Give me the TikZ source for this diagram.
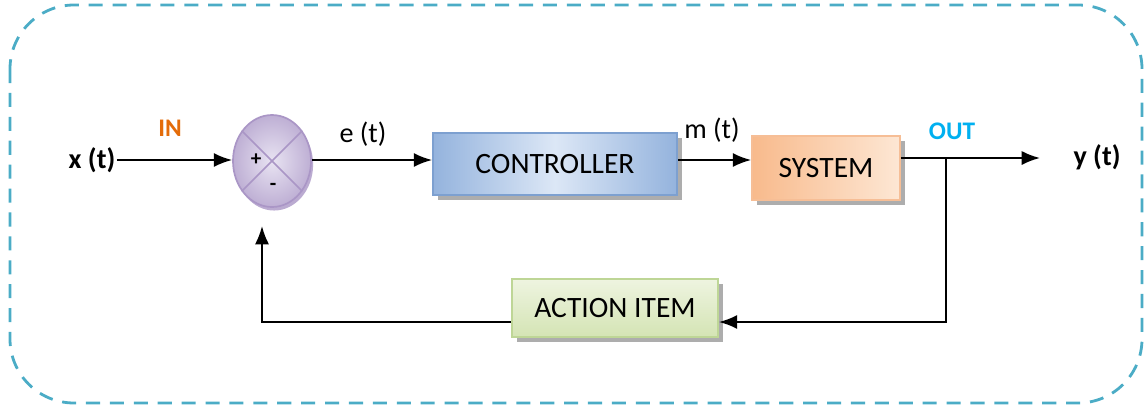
\documentclass[tikz,border=0pt]{standalone}
\usepackage{fontspec}
\setmainfont{Carlito}
\usetikzlibrary{shapes.geometric,shadows,arrows.meta}
\definecolor{frameteal}{RGB}{75,172,198}
\definecolor{inorange}{RGB}{228,108,10}
\definecolor{outcyan}{RGB}{0,176,240}
\definecolor{ctrldark}{RGB}{148,179,221}
\definecolor{ctrllight}{RGB}{220,231,246}
\definecolor{ctrlline}{RGB}{125,160,208}
\definecolor{sysdark}{RGB}{248,186,140}
\definecolor{syslight}{RGB}{253,231,212}
\definecolor{sysline}{RGB}{246,190,150}
\definecolor{actdark}{RGB}{212,228,180}
\definecolor{actlight}{RGB}{238,244,224}
\definecolor{actline}{RGB}{190,214,150}
\definecolor{sumdark}{RGB}{190,175,212}
\definecolor{sumlight}{RGB}{232,227,242}
\definecolor{sumline}{RGB}{170,150,198}
\begin{document}
\begin{tikzpicture}[>={Latex[length=13pt,width=10pt]}, x=0.025cm, y=-0.025cm,
    txt/.style={font=\fontsize{20}{24}\selectfont, inner sep=1pt},
    tag/.style={font=\fontsize{18}{20}\selectfont\bfseries, inner sep=1pt},
    blockbox/.style={draw, line width=1.2pt, font=\fontsize{21}{24}\selectfont,
        drop shadow={shadow xshift=3.5pt, shadow yshift=-3.5pt, fill=black!40, opacity=.8}},
    sumnode/.style={ellipse, draw=sumline, line width=1.2pt, minimum width=1.95cm, minimum height=2.3cm,
        inner color=sumlight, outer color=sumdark,
        drop shadow={shadow xshift=1.5pt, shadow yshift=-2.5pt, fill=sumline, opacity=.8}},
    wire/.style={line width=1.4pt}]
    \useasboundingbox (0,0) rectangle (1148,408);
    \draw[frameteal, line width=2pt, dash pattern=on 10pt off 7pt, rounded corners=1.6cm](10,5)rectangle(1142,403);
    % blocks
    \node[sumnode] (sum) at (272,161) {};
    \draw[sumline, line width=1.1pt](sum.135)--(sum.-45);
    \draw[sumline, line width=1.1pt](sum.45)--(sum.-135);
    \node[tag, font=\fontsize{15}{16}\selectfont\bfseries] (plus) at (256,160) {+};
    \node[tag, font=\fontsize{15}{16}\selectfont\bfseries] (minus) at (273,187) {-};
    \node[blockbox, draw=ctrlline, minimum width=6.1cm, minimum height=1.55cm,
        left color=ctrldark, right color=ctrldark, middle color=ctrllight] (ctrl) at (555,164) {CONTROLLER};
    \node[blockbox, draw=sysline, minimum width=3.7cm, minimum height=1.6cm,
        left color=sysdark, right color=syslight] (sys) at (826,168) {SYSTEM};
    \node[blockbox, draw=actline, minimum width=5.15cm, minimum height=1.45cm,
        top color=actlight, bottom color=actdark] (act) at (615,308) {ACTION ITEM};
    % labels
    \node[txt, font=\fontsize{20}{24}\selectfont\bfseries] (xt) at (92,160) {x (t)};
    \node[tag, text=inorange] (inlbl) at (170,128) {IN};
    \node[txt] (et) at (363,134) {e (t)};
    \node[txt] (mt) at (712,130) {m (t)};
    \node[tag, text=outcyan] (outlbl) at (952,131) {OUT};
    \node[txt, font=\fontsize{20}{24}\selectfont\bfseries] (yt) at (1097,157) {y (t)};
    % connectors
    \coordinate (main) at (0,160);
    \coordinate (outend) at (1040,158);
    \coordinate (br) at (946,158);
    \coordinate (fb) at (946,322);
    \coordinate (fbl) at (262,322);
    \coordinate (sumin) at (262,226);
    \draw[->, wire](xt.east |- main)--(sum.west |- main);
    \draw[->, wire](sum.east |- main)--(ctrl.west |- main);
    \draw[->, wire](ctrl.east |- main)--(sys.west |- main);
    \draw[->, wire](sys.east |- outend)--(outend);
    \draw[->, wire](br)--(fb)--(act.east |- fb);
    \draw[->, wire](act.west |- fb)--(fbl)--(sumin);
\end{tikzpicture}
\end{document}
